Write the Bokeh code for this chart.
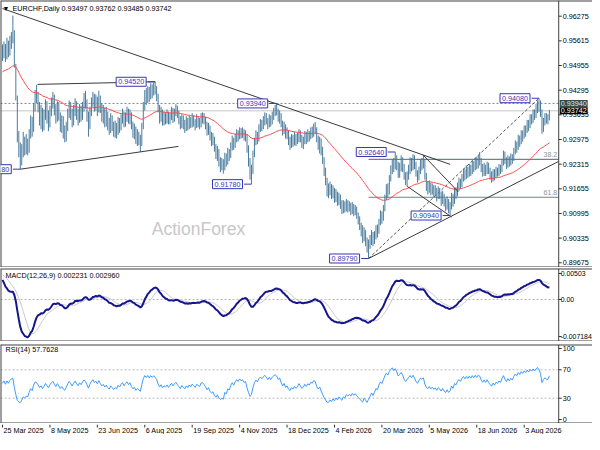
import numpy as np
from bokeh.plotting import figure
from bokeh.layouts import column
from bokeh.models import Range1d, Label, Span
from bokeh.embed import file_html
from bokeh.resources import INLINE

# ---------------- data (prices in 1e-4 units) ----------------
closes = [
 9525, 9545, 9520, 9548, 9530, 9555, 9570, 9575, 9498, 9410,
 9300, 9265, 9240, 9262, 9290, 9268, 9285, 9270, 9310, 9345,
 9320, 9380, 9418, 9412, 9385, 9352, 9370, 9335, 9360, 9390,
 9365, 9340, 9372, 9395, 9410, 9380, 9355, 9385, 9360, 9330,
 9348, 9320, 9305, 9330, 9365, 9390, 9370, 9345, 9372, 9395,
 9368, 9350, 9378, 9360, 9385, 9408, 9395, 9365, 9330, 9368,
 9395, 9415, 9388, 9402, 9378, 9410, 9385, 9360, 9375, 9348,
 9365, 9340, 9325, 9352, 9335, 9315, 9330, 9318, 9345, 9330,
 9352, 9365, 9340, 9358, 9372, 9350, 9365, 9335, 9315, 9325,
 9298, 9310, 9300, 9285, 9330, 9385, 9420, 9405, 9428, 9410,
 9435, 9422, 9440, 9430, 9415, 9380, 9355, 9372, 9345, 9360,
 9350, 9365, 9345, 9360, 9375, 9355, 9370, 9382, 9365, 9350,
 9335, 9355, 9340, 9330, 9348, 9335, 9352, 9340, 9355, 9345,
 9335, 9352, 9345, 9338, 9358, 9360, 9350, 9338, 9320, 9330,
 9305, 9295, 9300, 9275, 9258, 9268, 9240, 9225, 9230, 9222,
 9250, 9238, 9262, 9255, 9278, 9295, 9280, 9300, 9315, 9305,
 9322, 9312, 9318, 9305, 9310, 9275, 9240, 9205, 9215, 9255,
 9290, 9310, 9298, 9325, 9340, 9330, 9345, 9360, 9348, 9335,
 9352, 9340, 9358, 9370, 9378, 9372, 9355, 9365, 9340, 9320,
 9335, 9310, 9318, 9295, 9285, 9302, 9290, 9305, 9292, 9300,
 9318, 9305, 9288, 9295, 9310, 9298, 9312, 9305, 9320, 9315,
 9330, 9325, 9300, 9285, 9295, 9270, 9245, 9215, 9190, 9160,
 9160, 9170, 9150, 9162, 9140, 9152, 9132, 9145, 9125, 9110,
 9125, 9112, 9128, 9115, 9122, 9108, 9120, 9105, 9112, 9095,
 9082, 9068, 9050, 9035, 9050, 9028, 9005, 9018, 9030, 9045,
 9025, 9040, 9058, 9050, 9075, 9095, 9085, 9110, 9140, 9165,
 9155, 9190, 9215, 9235, 9220, 9245, 9228, 9205, 9220, 9240,
 9225, 9200, 9185, 9200, 9218, 9235, 9222, 9245, 9230, 9208,
 9195, 9215, 9235, 9228, 9240, 9200, 9175, 9165, 9178, 9160,
 9170, 9155, 9162, 9145, 9160, 9150, 9135, 9148, 9130, 9118,
 9132, 9112, 9120, 9145, 9130, 9158, 9150, 9172, 9185, 9175,
 9195, 9210, 9198, 9215, 9205, 9222, 9212, 9230, 9220, 9238,
 9228, 9245, 9240, 9222, 9210, 9225, 9212, 9228, 9215, 9202,
 9195, 9210, 9200, 9215, 9208, 9222, 9215, 9235, 9255, 9240,
 9228, 9245, 9235, 9250, 9242, 9265, 9282, 9275, 9298, 9290,
 9312, 9305, 9325, 9318, 9340, 9332, 9355, 9348, 9368, 9360,
 9380, 9392, 9385, 9370, 9325, 9345, 9358, 9350, 9349.7, 9374.2,
]
highs = [
 9552, 9560, 9553, 9570, 9562, 9575, 9585, 9629, 9590, 9500,
 9415, 9320, 9290, 9285, 9318, 9305, 9312, 9300, 9325, 9362,
 9358, 9395, 9430, 9444, 9425, 9398, 9390, 9382, 9378, 9405,
 9400, 9375, 9388, 9410, 9425, 9418, 9392, 9400, 9398, 9370,
 9362, 9360, 9335, 9345, 9380, 9402, 9398, 9380, 9390, 9408,
 9400, 9380, 9392, 9388, 9398, 9422, 9428, 9405, 9372, 9385,
 9410, 9425, 9420, 9418, 9412, 9428, 9415, 9395, 9390, 9382,
 9385, 9372, 9355, 9368, 9362, 9345, 9348, 9342, 9358, 9355,
 9365, 9380, 9372, 9370, 9385, 9380, 9378, 9370, 9345, 9340,
 9332, 9325, 9318, 9310, 9342, 9398, 9430, 9435, 9440, 9438,
 9448, 9445, 9450, 9452, 9440, 9420, 9390, 9385, 9378, 9372,
 9370, 9378, 9372, 9368, 9385, 9382, 9380, 9392, 9388, 9375,
 9360, 9365, 9362, 9350, 9360, 9355, 9362, 9358, 9368, 9362,
 9352, 9365, 9360, 9355, 9368, 9370, 9368, 9358, 9345, 9342,
 9335, 9318, 9315, 9305, 9285, 9280, 9272, 9250, 9248, 9245,
 9262, 9260, 9275, 9272, 9290, 9308, 9302, 9312, 9325, 9322,
 9330, 9328, 9330, 9325, 9322, 9312, 9282, 9248, 9230, 9268,
 9302, 9322, 9318, 9338, 9352, 9350, 9360, 9370, 9368, 9355,
 9365, 9362, 9372, 9382, 9390, 9394, 9380, 9375, 9368, 9348,
 9345, 9338, 9330, 9322, 9305, 9312, 9310, 9318, 9312, 9315,
 9325, 9322, 9310, 9305, 9320, 9318, 9325, 9320, 9330, 9332,
 9340, 9344, 9330, 9308, 9305, 9300, 9278, 9250, 9222, 9195,
 9180, 9185, 9178, 9175, 9168, 9165, 9158, 9155, 9150, 9135,
 9135, 9132, 9138, 9135, 9132, 9128, 9130, 9125, 9122, 9118,
 9102, 9092, 9075, 9068, 9062, 9055, 9035, 9030, 9042, 9055,
 9050, 9052, 9068, 9070, 9085, 9108, 9105, 9122, 9150, 9178,
 9180, 9202, 9228, 9245, 9248, 9264, 9255, 9238, 9235, 9255,
 9250, 9232, 9210, 9212, 9230, 9250, 9248, 9258, 9255, 9238,
 9215, 9225, 9245, 9248, 9255, 9245, 9208, 9185, 9188, 9182,
 9180, 9175, 9175, 9168, 9172, 9168, 9158, 9160, 9152, 9140,
 9145, 9138, 9130, 9155, 9152, 9168, 9170, 9182, 9195, 9192,
 9205, 9220, 9218, 9228, 9225, 9232, 9230, 9242, 9240, 9248,
 9250, 9255, 9264, 9248, 9232, 9235, 9230, 9238, 9235, 9222,
 9212, 9218, 9218, 9225, 9222, 9232, 9230, 9245, 9268, 9265,
 9250, 9255, 9252, 9260, 9258, 9275, 9295, 9292, 9310, 9308,
 9322, 9322, 9335, 9335, 9350, 9350, 9365, 9365, 9378, 9378,
 9392, 9402, 9408, 9402, 9378, 9355, 9368, 9368, 9365, 9376.2,
]
lows = [
 9508, 9515, 9505, 9512, 9518, 9522, 9540, 9555, 9490, 9402,
 9290, 9250, 9218, 9228, 9250, 9255, 9258, 9255, 9262, 9300,
 9305, 9318, 9372, 9395, 9370, 9335, 9325, 9318, 9322, 9350,
 9340, 9320, 9330, 9360, 9380, 9362, 9340, 9345, 9348, 9318,
 9315, 9300, 9290, 9292, 9320, 9355, 9350, 9330, 9335, 9360,
 9350, 9335, 9342, 9345, 9350, 9372, 9380, 9345, 9305, 9325,
 9360, 9385, 9372, 9375, 9360, 9370, 9368, 9345, 9340, 9330,
 9332, 9322, 9310, 9315, 9320, 9305, 9302, 9300, 9310, 9315,
 9322, 9340, 9330, 9332, 9345, 9340, 9338, 9325, 9302, 9298,
 9285, 9280, 9282, 9264, 9280, 9325, 9375, 9390, 9395, 9398,
 9405, 9408, 9415, 9418, 9400, 9370, 9340, 9345, 9335, 9335,
 9338, 9340, 9338, 9338, 9350, 9342, 9345, 9360, 9355, 9338,
 9325, 9328, 9325, 9315, 9320, 9322, 9325, 9328, 9330, 9332,
 9322, 9328, 9330, 9325, 9330, 9340, 9338, 9325, 9308, 9310,
 9295, 9280, 9282, 9265, 9245, 9240, 9225, 9210, 9215, 9206,
 9215, 9225, 9230, 9240, 9248, 9268, 9270, 9275, 9290, 9292,
 9298, 9300, 9302, 9295, 9292, 9262, 9225, 9190, 9178, 9205,
 9250, 9282, 9285, 9292, 9318, 9320, 9325, 9335, 9338, 9325,
 9330, 9332, 9338, 9350, 9360, 9362, 9345, 9340, 9330, 9308,
 9312, 9300, 9298, 9282, 9270, 9275, 9278, 9282, 9280, 9285,
 9290, 9290, 9275, 9272, 9285, 9285, 9290, 9292, 9298, 9302,
 9305, 9312, 9290, 9270, 9260, 9255, 9232, 9200, 9175, 9145,
 9140, 9148, 9138, 9140, 9128, 9130, 9120, 9122, 9112, 9098,
 9100, 9102, 9105, 9102, 9105, 9095, 9098, 9092, 9095, 9085,
 9070, 9055, 9038, 9020, 9025, 9012, 8995, 8979, 9005, 9015,
 9012, 9018, 9030, 9035, 9045, 9068, 9072, 9080, 9105, 9135,
 9140, 9150, 9185, 9205, 9210, 9218, 9215, 9195, 9195, 9212,
 9210, 9190, 9175, 9172, 9190, 9205, 9212, 9215, 9218, 9198,
 9182, 9188, 9205, 9215, 9220, 9190, 9160, 9150, 9155, 9148,
 9150, 9142, 9145, 9132, 9138, 9138, 9120, 9125, 9118, 9105,
 9110, 9100, 9094, 9110, 9118, 9125, 9138, 9145, 9160, 9165,
 9170, 9185, 9188, 9192, 9195, 9198, 9200, 9205, 9210, 9215,
 9218, 9220, 9228, 9210, 9198, 9200, 9200, 9205, 9205, 9190,
 9182, 9185, 9188, 9195, 9198, 9200, 9205, 9210, 9228, 9232,
 9218, 9222, 9225, 9228, 9232, 9240, 9258, 9262, 9270, 9278,
 9285, 9292, 9300, 9305, 9315, 9320, 9328, 9338, 9342, 9350,
 9355, 9368, 9372, 9358, 9313, 9318, 9335, 9340, 9338, 9348.5,
]
PIP = 1e-4

# indicator start values read at the left edge of the reference
ma_seed = 0.9477          # 55-day EMA at first bar
ema12_seed, ema26_seed = 0.9595, 0.9548
macd_signal_seed = 0.0049
prev_close_seed = 0.9520
rsi_gain_seed, rsi_loss_seed = 0.0011, 0.0011

# swing labels (bar index, price)
swing_bars = [12, 103, 168, 185, 247, 265, 302, 362]
swing_prices = [0.92180, 0.94520, 0.91780, 0.93940, 0.89790, 0.92640, 0.90940, 0.94080]

# drawn trend lines (bar, price) -> (bar, price)
tl_x0 = [0, 23.6, 12, 283.8, 273.1, 247]
tl_y0 = [0.9648, 0.9445, 0.9218, 0.9256, 0.9172, 0.8979]
tl_x1 = [302, 103, 118.7, 307.6, 303.1, 375.3]
tl_y1 = [0.9231, 0.9452, 0.9279, 0.9157, 0.9090, 0.9239]
fib_low_bar, fib_high_bar = 247, 362
fib_ratios = [0.382, 0.618]
fib_names = ["38.2", "61.8"]
resist_level = 0.93940

price_ticks = [0.89675, 0.90335, 0.90995, 0.91655, 0.92315, 0.92975,
               0.93635, 0.94295, 0.94955, 0.95615, 0.96275]
macd_ticks = [0.00503, 0.0, -0.007184]
macd_tick_labels = ["0.00503", "0.00", "-0.007184"]
rsi_ticks = [100, 70, 30, 0]
rsi_levels = [70, 30]
date_bars = [0, 32, 64, 96, 128, 160, 192, 224, 256, 288, 320, 352]
date_labels = ["25 Mar 2025", "8 May 2025", "23 Jun 2025", "6 Aug 2025",
               "19 Sep 2025", "4 Nov 2025", "18 Dec 2025", "4 Feb 2026",
               "20 Mar 2026", "5 May 2026", "18 Jun 2026", "3 Aug 2026"]

title_main = "EURCHF,Daily  0.93497 0.93762 0.93485 0.93742"
title_macd = "MACD(12,26,9) 0.002231 0.002960"
title_rsi = "RSI(14) 57.7628"
watermark = "ActionForex"

# ---------------- indicators ----------------
c = np.array(closes, dtype=float) * PIP
h = np.array(highs, dtype=float) * PIP
l = np.array(lows, dtype=float) * PIP
n = len(c)
idx = np.arange(n)


def ema(src, period, seed):
    k = 2.0 / (period + 1)
    e = seed
    out = np.empty(len(src))
    for i, v in enumerate(src):
        e += k * (v - e)
        out[i] = e
    return out


ma = ema(c, 55, ma_seed)
macd = ema(c, 12, ema12_seed) - ema(c, 26, ema26_seed)
ext = np.concatenate([np.full(8, macd_signal_seed), macd])
signal = np.array([ext[i:i + 9].mean() for i in range(n)])

prev = np.concatenate([[prev_close_seed], c[:-1]])
ag, al = rsi_gain_seed, rsi_loss_seed
rsi = []
for d in c - prev:
    ag = (ag * 13 + max(d, 0)) / 14
    al = (al * 13 + max(-d, 0)) / 14
    rsi.append(100 * ag / (ag + al))
rsi = np.array(rsi)

# ---------------- styling / layout ----------------
FONT = "Liberation Sans"
FS = "7.2px"
W = 592
BAR = "#4a7b9d"
FRAME = "#404040"
TL = "#3a3a3a"
LBL = "#3636b8"
AXIS_X = 375.3       # bar position of the price-scale edge
TICK = 2.0           # tick mark length in bars

xr = Range1d(-1.35, 398.1)


def base(height, yr, top=0):
    p = figure(width=W, height=height, x_range=xr, y_range=yr,
               output_backend="svg", toolbar_location=None,
               x_axis_location=None, y_axis_location=None,
               min_border_left=0, min_border_right=0,
               min_border_top=top, min_border_bottom=0)
    p.xgrid.visible = False
    p.ygrid.visible = False
    p.outline_line_color = None
    p.background_fill_color = "white"
    p.border_fill_color = "white"
    for loc in (yr.start, yr.end):
        p.add_layout(Span(location=loc, dimension="width", line_color=FRAME, line_width=2))
    p.add_layout(Span(location=xr.start, dimension="height", line_color=FRAME, line_width=2))
    p.add_layout(Span(location=AXIS_X, dimension="height", line_color=FRAME, line_width=1))
    return p


def lab(p, text, x, y, xu="data", yu="data", **kw):
    d = dict(text_font=FONT, text_font_size=FS, text_color="#000000")
    d.update(kw)
    p.add_layout(Label(text=text, x=x, y=y, x_units=xu, y_units=yu, **d))


def price_scale(p, ticks, texts, offset=4, size=FS):
    p.segment(x0=[AXIS_X] * len(ticks), y0=ticks, x1=[AXIS_X + TICK] * len(ticks), y1=ticks,
              line_color="#303030", line_width=1)
    for t, s in zip(ticks, texts):
        lab(p, s, AXIS_X, t, x_offset=offset, text_align="left", text_baseline="middle",
            text_font_size=size)


def hline(p, level, **kw):
    p.line([xr.start, AXIS_X], [level, level], **kw)


# ---------------- main price panel ----------------
yr1 = Range1d(0.89549, 0.96695)
p1 = base(267, yr1)

lab(p1, watermark, 198, 39, xu="screen", yu="screen", text_font_size="17.5px",
    text_color="#c8c8c8", text_align="center", text_baseline="middle")

hline(p1, resist_level, line_color="#7a8888", line_dash="2 2", line_width=1)
hline(p1, c[-1], line_color="#c4c4c4", line_width=1)

lo_p = swing_prices[4]
hi_p = swing_prices[7]
for r, nm in zip(fib_ratios, fib_names):
    lev = hi_p - r * (hi_p - lo_p)
    p1.line([fib_low_bar, AXIS_X], [lev, lev], line_color="#6f8484", line_width=1.2)
    lab(p1, nm, AXIS_X - 1, lev, y_offset=2, text_align="right",
        text_baseline="bottom", text_color="#8a9696", text_font_size="7px")

p1.line([fib_low_bar, fib_high_bar], [lo_p, hi_p], line_color="#555555",
        line_dash="3 2", line_width=1)

p1.segment(x0=idx, y0=l, x1=idx, y1=h, line_color=BAR, line_width=1)
p1.line(idx, ma, line_color="#ff4a4a", line_width=1)

p1.segment(x0=tl_x0, y0=tl_y0, x1=tl_x1, y1=tl_y1, line_color=TL, line_width=1)

for b, pr in zip(swing_bars, swing_prices):
    p1.line([b - 5, b], [pr, pr], line_color=LBL, line_width=1)
    lab(p1, "%.5f" % pr, b, pr, x_offset=-9, text_align="right", text_baseline="middle",
        text_color=LBL, border_line_color=LBL, border_line_width=1,
        background_fill_color="white", padding=2)

price_scale(p1, price_ticks, ["%.5f" % t for t in price_ticks])
lab(p1, "%.5f" % resist_level, AXIS_X, resist_level, x_offset=1, text_baseline="middle",
    text_color="#e4e4e4", background_fill_color="#2f4f4f", padding=1)
lab(p1, "%.5f" % c[-1], AXIS_X, c[-1], x_offset=1, text_baseline="middle",
    text_color="#ffffff", background_fill_color="#000000", padding=1)

lab(p1, "\u25bc", 2, 259, xu="screen", yu="screen", text_font_size="7px",
    text_baseline="middle")
lab(p1, title_main, 12, 259, xu="screen", yu="screen", text_baseline="middle")

# ---------------- MACD panel ----------------
yr2 = Range1d(-0.00815, 0.00600)
p2 = base(74, yr2, top=1)
hline(p2, 0.0, line_color="#b8b8b8", line_dash="2 2", line_width=1)
p2.line(idx, signal, line_color="#c8c8c8", line_width=1)
p2.line(idx, macd, line_color="#16168c", line_width=2)
price_scale(p2, macd_ticks, macd_tick_labels, offset=2, size="6.9px")
lab(p2, title_macd, 5, 66, xu="screen", yu="screen", text_baseline="middle")

# ---------------- RSI panel ----------------
yr3 = Range1d(-5.6, 105.6)
p3 = base(82, yr3, top=3)
for lv in rsi_levels:
    hline(p3, lv, line_color="#bdbdbd", line_dash="2 2", line_width=1)
p3.line(idx, rsi, line_color="#3d9bff", line_width=1)
price_scale(p3, rsi_ticks, [str(t) for t in rsi_ticks])
lab(p3, title_rsi, 5, 74, xu="screen", yu="screen", text_baseline="middle")

# ---------------- date scale ----------------
p4 = figure(width=W, height=11, x_range=xr, y_range=Range1d(0, 11),
            output_backend="svg", toolbar_location=None,
            x_axis_location=None, y_axis_location=None,
            min_border_left=0, min_border_right=0, min_border_top=0, min_border_bottom=0)
p4.xgrid.visible = False
p4.ygrid.visible = False
p4.outline_line_color = None
p4.background_fill_color = "white"
p4.border_fill_color = "white"
p4.segment(x0=date_bars, y0=[11] * len(date_bars), x1=date_bars, y1=[8] * len(date_bars),
           line_color="#303030", line_width=1)
for b, s in zip(date_bars, date_labels):
    lab(p4, s, b, 5, x_offset=1, text_align="left", text_baseline="middle")

layout = column(p1, p2, p3, p4, spacing=0)
open("out.html", "w").write(file_html(layout, INLINE))
